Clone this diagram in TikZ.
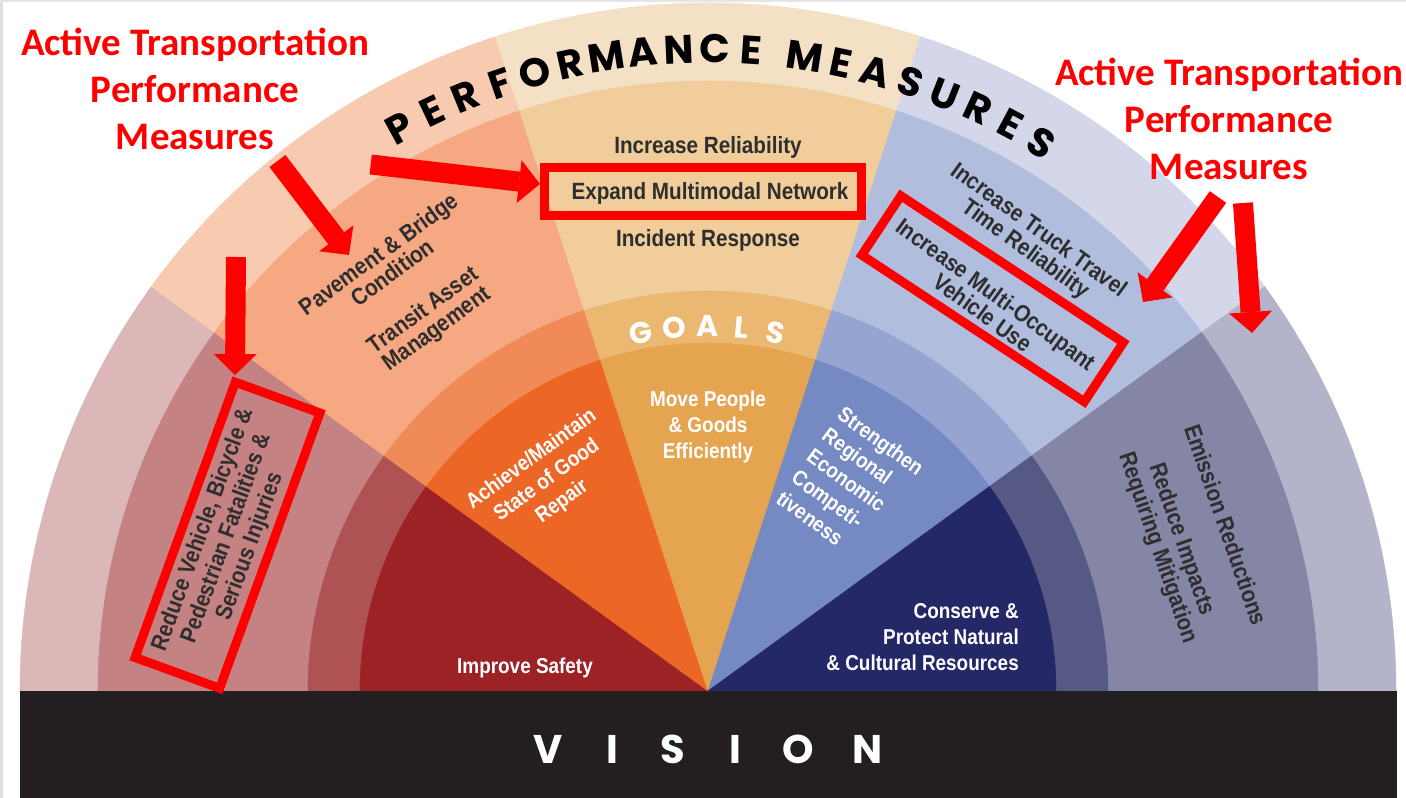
\documentclass[tikz,border=0pt]{standalone}
\usepackage{fontspec}
\usetikzlibrary{arrows.meta}
\setmainfont{Liberation Sans}
\newfontfamily\mfont{Liberation Sans}[FakeStretch=0.88]
\newfontfamily\geofont{Poppins}
\newfontfamily\calfont{Carlito}
\definecolor{s1a}{HTML}{DCB7B8}
\definecolor{s1b}{HTML}{C58283}
\definecolor{s1c}{HTML}{AE5253}
\definecolor{s1d}{HTML}{9C2226}
\definecolor{s2a}{HTML}{F8CBB1}
\definecolor{s2b}{HTML}{F5A882}
\definecolor{s2c}{HTML}{F08A56}
\definecolor{s2d}{HTML}{EC6625}
\definecolor{s3a}{HTML}{F4E0C5}
\definecolor{s3b}{HTML}{F0CD9B}
\definecolor{s3c}{HTML}{EBB872}
\definecolor{s3d}{HTML}{E5A450}
\definecolor{s4a}{HTML}{D4D7EA}
\definecolor{s4b}{HTML}{B1BDDD}
\definecolor{s4c}{HTML}{95A4D0}
\definecolor{s4d}{HTML}{7589C3}
\definecolor{s5a}{HTML}{B3B3C9}
\definecolor{s5b}{HTML}{8585A6}
\definecolor{s5c}{HTML}{555984}
\definecolor{s5d}{HTML}{252866}
\definecolor{barblack}{HTML}{231F20}
\definecolor{txtgray}{HTML}{2E2E2E}
\definecolor{alertred}{HTML}{FF0000}
\begin{document}
\begin{tikzpicture}[x=1pt,y=1pt,
  pmletter/.style={font={\geofont\bfseries\fontsize{40}{40}\selectfont}, text=black, inner sep=0pt, anchor=base},
  goalletter/.style={font={\geofont\bfseries\fontsize{30}{30}\selectfont}, text=white, inner sep=0pt, anchor=base},
  visletter/.style={font={\geofont\bfseries\fontsize{40}{40}\selectfont}, text=white, inner sep=0pt, anchor=base},
  meas/.style={font={\mfont\bfseries\fontsize{23.5}{23}\selectfont}, text=txtgray, align=center, inner sep=0pt},
  goal/.style={font={\mfont\bfseries\fontsize{21.5}{26}\selectfont}, text=white, align=center, inner sep=0pt},
  atitle/.style={font={\calfont\bfseries\fontsize{39}{47}\selectfont}, text=alertred, align=center, inner sep=0pt},
  redbox/.style={draw=alertred, line width=9pt, inner sep=0pt},
  redarrow/.style={draw=alertred, line width=20pt, -{Triangle[width=43pt,length=21pt,line width=0pt]}}
]
\useasboundingbox (-708,-107) rectangle (698,691);
\fill[white] (-708,-107) rectangle (698,691);
\fill[black!12] (-708,-107) rectangle (-705,691);
\fill[black!10] (-708,689) rectangle (698,691);
% fan rings
\foreach \r/\l in {688/a,610/b,400/c,348/d}{
  \foreach \k/\s in {1/144,2/108,3/72,4/36,5/0}{
    \fill[fill=s\k\l, draw=s\k\l, line width=0.5pt] (0,0) -- (\s:\r pt) arc[start angle=\s, end angle=\s+36, radius=\r pt] -- cycle;
  }
}
% vision bar
\fill[barblack] (-688,-107) rectangle (689,0);
% PERFORMANCE MEASURES
\foreach \ch [count=\i from 0] in {P,E,R,F,O,R,M,A,N,C,E}{
  \pgfmathsetmacro\ang{118.7-3.26*\i}
  \pgfmathsetmacro\rot{\ang-90}
  \node[pmletter, rotate=\rot] (pa\i) at (\ang:628pt) {\ch};
}
\foreach \ch [count=\i from 0] in {M,E,A,S,U,R,E,S}{
  \pgfmathsetmacro\ang{81.3-3.23*\i}
  \pgfmathsetmacro\rot{\ang-90}
  \node[pmletter, rotate=\rot] (pb\i) at (\ang:628pt) {\ch};
}
% GOALS
\foreach \ch [count=\i from 0] in {G,O,A,L,S}{
  \pgfmathsetmacro\ang{100.6-5.3*\i}
  \pgfmathsetmacro\rot{\ang-90}
  \node[goalletter, rotate=\rot] (g\i) at (\ang:354pt) {\ch};
}
% VISION
\foreach \ch/\x [count=\i] in {V/-160,I/-96,S/-35,I/27,O/90,N/160}{
  \node[visletter] (v\i) at (\x,-72) {\ch};
}
% measures
\node[meas, rotate=70, font={\mfont\bfseries\fontsize{23.5}{25}\selectfont}] (msafe) at (162.4:505pt) {Reduce Vehicle, Bicycle \&\\Pedestrian Fatalities \&\\Serious Injuries};
\node[meas, rotate=36] (mpave) at (127:536pt) {Pavement \& Bridge\\Condition};
\node[meas, rotate=36] (mtransit) at (126.8:463pt) {Transit Asset\\Management};
\node[meas] (mrel) at (0,544) {Increase Reliability};
\node[meas] (mexp) at (2,498) {Expand Multimodal Network};
\node[meas] (minc) at (0,451) {Incident Response};
\node[meas, rotate=-36] (mtruck) at (54.3:555pt) {Increase Truck Travel\\Time Reliability};
\node[meas, rotate=-36] (mhov) at (54:479pt) {Increase Multi-Occupant\\Vehicle Use};
\node[meas, rotate=-71] (memis) at (17.8:544pt) {Emission Reductions};
\node[meas, rotate=-71, font={\mfont\bfseries\fontsize{23.5}{25}\selectfont}] (mimp) at (17.7:484pt) {Reduce Impacts\\Requiring Mitigation};
% goals
\node[goal] (gsafe) at (-183,23) {Improve Safety};
\node[goal, rotate=36] (grepair) at (127.4:265pt) {Achieve/Maintain\\State of Good\\Repair};
\node[goal] (gmove) at (0,264) {Move People\\\& Goods\\Efficiently};
\node[goal, rotate=-36, align=left] (gecon) at (55.6:252pt) {Strengthen\\Regional\\Economic\\Competi-\\tiveness};
\node[goal, align=right, anchor=east] (gcons) at (311,54) {Conserve \&\\Protect Natural\\\& Cultural Resources};
% red boxes
\node[redbox, minimum width=316.5pt, minimum height=48pt] (boxA) at (-5.25,499.5) {};
\node[redbox, minimum width=293pt, minimum height=90pt, rotate=70] (boxB) at (-480.5,155.75) {};
\node[redbox, minimum width=266.5pt, minimum height=71pt, rotate=-33.4] (boxC) at (284.6,392.2) {};
% titles
\node[atitle] (titleL) at (-513,602.5) {Active Transportation\\Performance\\Measures};
\node[atitle] (titleR) at (521,572.5) {Active Transportation\\Performance\\Measures};
% arrows
\coordinate (a1s) at (-430.5,530);
\coordinate (a1e) at (-359,436);
\coordinate (a2s) at (-472,434);
\coordinate (a2e) at (-473,316);
\coordinate (a3s) at (-337.3,526.5);
\coordinate (a3e) at (-168,507);
\coordinate (a4s) at (510,494);
\coordinate (a4e) at (435,389);
\coordinate (a5s) at (535,488);
\coordinate (a5e) at (544,358);
\draw[redarrow] (a1s) -- (a1e);
\draw[redarrow] (a2s) -- (a2e);
\draw[redarrow] (a3s) -- (a3e);
\draw[redarrow] (a4s) -- (a4e);
\draw[redarrow] (a5s) -- (a5e);
\end{tikzpicture}
\end{document}
